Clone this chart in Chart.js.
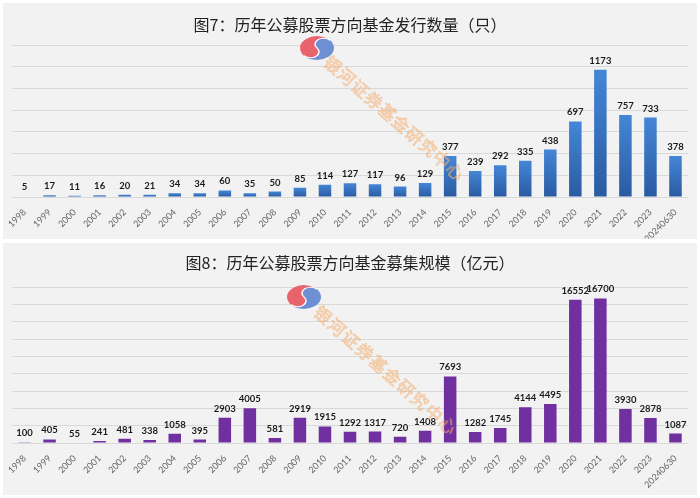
<!DOCTYPE html>
<html>
<head>
<meta charset="utf-8">
<script src="https://cdn.jsdelivr.net/npm/chart.js@4.4.1/dist/chart.umd.min.js"></script>
<style>
    body { margin: 0; background: #ffffff; width: 700px; height: 498px; position: relative; overflow: hidden; }
    .panel { position: absolute; left: 3px; width: 694px; background: #f2f2f2; }
    #panel-count { top: 3px; height: 236px; }
    #panel-amount { top: 243px; height: 252px; }
    canvas { display: block; }
</style>
</head>
<body>
<div class="panel" id="panel-count"><canvas id="count-chart" width="694" height="236"></canvas></div>
<div class="panel" id="panel-amount"><canvas id="amount-chart" width="694" height="252"></canvas></div>
<script>
// Categories (x axis)
const years = ['1998', '1999', '2000', '2001', '2002', '2003', '2004', '2005', '2006', '2007',
    '2008', '2009', '2010', '2011', '2012', '2013', '2014', '2015', '2016', '2017',
    '2018', '2019', '2020', '2021', '2022', '2023', '20240630'];

// 图7: 发行数量 (只)
const fundCounts = [5, 17, 11, 16, 20, 21, 34, 34, 60, 35,
    50, 85, 114, 127, 117, 96, 129, 377, 239, 292,
    335, 438, 697, 1173, 757, 733, 378];

// 图8: 募集规模 (亿元)
const raiseAmounts = [100, 405, 55, 241, 481, 338, 1058, 395, 2903, 4005,
    581, 2919, 1915, 1292, 1317, 720, 1408, 7693, 1282, 1745,
    4144, 4495, 16552, 16700, 3930, 2878, 1087];

const countTitle = '图7：历年公募股票方向基金发行数量（只）';
const amountTitle = '图8：历年公募股票方向基金募集规模（亿元）';
const watermarkText = '银河证券基金研究中心';

// value labels above each bar
const valueLabels = {
    id: 'valueLabels',
    afterDatasetsDraw(chart) {
        const ctx = chart.ctx;
        const meta = chart.getDatasetMeta(0);
        const values = chart.data.datasets[0].data;
        ctx.save();
        ctx.font = 'bold 9.5px Lato, "Open Sans", sans-serif';
        ctx.fillStyle = '#1a1a1a';
        ctx.textAlign = 'center';
        ctx.textBaseline = 'alphabetic';
        meta.data.forEach((bar, i) => {
            ctx.fillText(String(values[i]), bar.x, bar.y - 6);
        });
        ctx.restore();
    }
};

// logo + diagonal watermark
const watermark = {
    id: 'watermark',
    afterDatasetsDraw(chart, args, opts) {
        const ctx = chart.ctx;
        ctx.save();
        // logo
        ctx.translate(opts.logoX, opts.logoY);
        ctx.scale(1, 0.7);
        ctx.rotate(-0.7);
        const r = 17;
        ctx.fillStyle = '#e9636d';
        ctx.beginPath(); ctx.arc(0, 0, r, Math.PI, 2 * Math.PI); ctx.fill();
        ctx.fillStyle = '#6f8fd3';
        ctx.beginPath(); ctx.arc(0, 0, r, 0, Math.PI); ctx.fill();
        ctx.fillStyle = '#e9636d';
        ctx.beginPath(); ctx.arc(-r / 2, 0, r / 2, 0, 2 * Math.PI); ctx.fill();
        ctx.fillStyle = '#6f8fd3';
        ctx.beginPath(); ctx.arc(r / 2, 0, r / 2, 0, 2 * Math.PI); ctx.fill();
        ctx.strokeStyle = '#ffffff';
        ctx.lineWidth = 1.5;
        ctx.beginPath();
        ctx.arc(-r / 2, 0, r / 2, Math.PI, 0, true);
        ctx.arc(r / 2, 0, r / 2, Math.PI, 2 * Math.PI, false);
        ctx.stroke();
        ctx.restore();

        // text
        ctx.save();
        ctx.translate(opts.textX, opts.textY);
        ctx.rotate(opts.angle * Math.PI / 180);
        ctx.font = '17px "Noto Sans CJK SC", sans-serif';
        ctx.textAlign = 'center';
        ctx.textBaseline = 'middle';
        ctx.fillStyle = 'rgba(252, 205, 160, 0.35)';
        ctx.strokeStyle = 'rgba(240, 160, 90, 0.55)';
        ctx.lineWidth = 0.7;
        [...watermarkText].forEach((ch, i) => {
            ctx.fillText(ch, i * opts.step, 0);
            ctx.strokeText(ch, i * opts.step, 0);
        });
        ctx.restore();
    }
};

function blueGradient(context) {
    const chart = context.chart;
    if (!chart.chartArea) return '#3a70bd';
    const y = chart.scales.y;
    const top = y.getPixelForValue(context.raw);
    const bottom = y.getPixelForValue(0);
    const g = chart.ctx.createLinearGradient(0, top, 0, Math.max(bottom, top + 1));
    g.addColorStop(0, '#4486d6');
    g.addColorStop(1, '#2a5ba2');
    return g;
}

function makeChart(canvasId, cfg) {
    return new Chart(document.getElementById(canvasId), {
        type: 'bar',
        data: {
            labels: years,
            datasets: [{
                data: cfg.values,
                backgroundColor: cfg.color,
                borderWidth: 0,
                categoryPercentage: 1,
                barPercentage: 0.5
            }]
        },
        options: {
            responsive: false,
            animation: false,
            layout: { padding: { left: 9, right: 9, top: 0, bottom: 0 } },
            plugins: {
                legend: { display: false },
                tooltip: { enabled: false },
                title: {
                    display: true,
                    text: cfg.title,
                    color: '#222222',
                    font: { family: '"Noto Sans CJK SC", sans-serif', size: 16, weight: 'normal' },
                    padding: cfg.titlePadding
                },
                watermark: cfg.watermark
            },
            scales: {
                x: {
                    grid: { display: false },
                    border: { display: false },
                    ticks: {
                        autoSkip: false,
                        minRotation: 45,
                        maxRotation: 45,
                        padding: 2,
                        color: '#666666',
                        font: { family: 'Lato, sans-serif', size: 9 }
                    },
                    afterFit: (scale) => { scale.height = cfg.axisHeight; }
                },
                y: {
                    min: 0,
                    max: cfg.max,
                    border: { display: false },
                    grid: { color: '#d9d9d9', drawTicks: false },
                    ticks: { display: false, stepSize: cfg.step },
                    afterFit: (scale) => { scale.width = 0; }
                }
            }
        },
        plugins: [valueLabels, watermark]
    });
}

makeChart('count-chart', {
    values: fundCounts,
    color: blueGradient,
    title: countTitle,
    titlePadding: { top: 12, bottom: 11 },
    axisHeight: 42,
    max: 1400,
    step: 200,
    watermark: { logoX: 314, logoY: 45, textX: 330, textY: 62, angle: 41, step: 18 }
});

makeChart('amount-chart', {
    values: raiseAmounts,
    color: '#7030a0',
    title: amountTitle,
    titlePadding: { top: 10, bottom: 15 },
    axisHeight: 52,
    max: 18000,
    step: 2000,
    watermark: { logoX: 301, logoY: 54, textX: 320, textY: 72, angle: 41.5, step: 18.5 }
});
</script>
</body>
</html>
